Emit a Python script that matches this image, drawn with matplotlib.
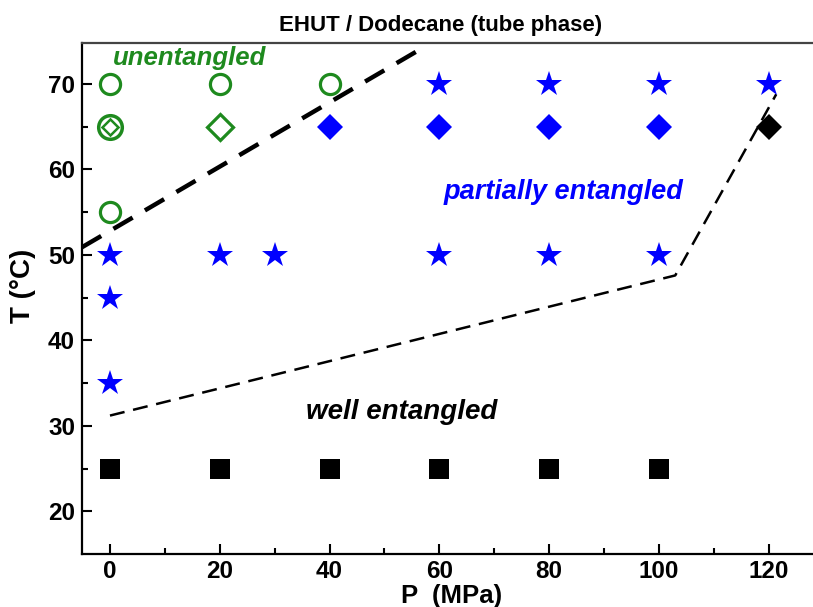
import matplotlib
matplotlib.use('Agg')
import matplotlib.pyplot as plt

plt.rcParams['font.family'] = ['Liberation Sans', 'DejaVu Sans']
plt.rcParams['font.weight'] = 'bold'

GREEN = '#1e8a1e'
BLUE = '#0000ff'

# open green circles (unentangled)
circ_p = [0, 20, 40, 0]
circ_t = [70, 70, 70, 55]
# open green diamonds
odia_p = [20]
odia_t = [65]
# circle + diamond combo
combo_p = [0]
combo_t = [65]
# blue stars
star_p = [60, 80, 100, 120, 0, 20, 30, 60, 80, 100, 0, 0]
star_t = [70, 70, 70, 70, 50, 50, 50, 50, 50, 50, 45, 35]
# blue filled diamonds
bdia_p = [40, 60, 80, 100]
bdia_t = [65, 65, 65, 65]
# black diamond
kdia_p = [120]
kdia_t = [65]
# black squares (well entangled)
sq_p = [0, 20, 40, 60, 80, 100]
sq_t = [25, 25, 25, 25, 25, 25]

# boundary lines
upper_p = [-5.1, 56.1]
upper_t = [50.9, 73.9]
lower_p = [0, 103.0, 121.4]
lower_t = [31.2, 47.6, 68.8]

fig = plt.figure(figsize=(8.13, 6.07), dpi=100)
ax = fig.add_axes([82/813, 1-554/607, 1-82/813, (554-43)/607])

ax.plot(upper_p, upper_t, color='black', lw=3.2, dashes=(5, 3.2), solid_capstyle='butt')
ax.plot(lower_p, lower_t, color='black', lw=1.8, dashes=(6, 3.5))

ax.plot(circ_p, circ_t, 'o', ms=14.5, mfc='none', mec=GREEN, mew=2.3, ls='none')
ax.plot(odia_p, odia_t, 'D', ms=13, mfc='none', mec=GREEN, mew=2.3, ls='none')
ax.plot(combo_p, combo_t, 'o', ms=17, mfc='none', mec=GREEN, mew=2.5, ls='none')
ax.plot(combo_p, combo_t, 'D', ms=8.5, mfc='none', mec=GREEN, mew=1.8, ls='none')
ax.plot(star_p, star_t, '*', ms=19, color=BLUE, mew=0, ls='none')
ax.plot(bdia_p, bdia_t, 'D', ms=13.5, color=BLUE, mew=0, ls='none')
ax.plot(kdia_p, kdia_t, 'D', ms=13.5, color='black', mew=0, ls='none')
ax.plot(sq_p, sq_t, 's', ms=14, color='black', mew=0, ls='none')

ax.text(0.5, 73.0, 'unentangled', color=GREEN, fontsize=18.5, fontweight='bold',
        fontstyle='italic', ha='left', va='center')
ax.text(60.8, 57.4, 'partially entangled', color=BLUE, fontsize=19.5, fontweight='bold',
        fontstyle='italic', ha='left', va='center')
ax.text(35.8, 31.6, 'well entangled', color='black', fontsize=20, fontweight='bold',
        fontstyle='italic', ha='left', va='center')

ax.set_xlim(-5.1, 128.1)
ax.set_ylim(15, 74.8)
ax.set_xticks([0, 20, 40, 60, 80, 100, 120])
ax.set_xticks([10, 30, 50, 70, 90, 110], minor=True)
ax.set_yticks([20, 30, 40, 50, 60, 70])
ax.set_yticks([25, 35, 45, 55, 65], minor=True)
ax.tick_params(which='both', direction='in', width=1.5, labelsize=17.5)
ax.tick_params(which='major', length=7)
ax.tick_params(which='minor', length=4.5)
ax.tick_params(axis='x', pad=4)
ax.tick_params(axis='y', pad=5)
for lab in ax.get_xticklabels() + ax.get_yticklabels():
    lab.set_fontweight('bold')

ax.spines['right'].set_visible(False)
for s in ['left', 'bottom', 'top']:
    ax.spines[s].set_linewidth(1.6)
ax.spines['top'].set_color('#444444')

fig.text(441/813, 1-26/607, 'EHUT / Dodecane (tube phase)', fontsize=16,
         fontweight='bold', ha='center', va='center')
fig.text(452/813, 1-596/607, 'P  (MPa)', fontsize=18.5, fontweight='bold',
         ha='center', va='center')
fig.text(23/813, 1-286/607, 'T (°C)', fontsize=20, fontweight='bold',
         ha='center', va='center', rotation=90)

fig.savefig('out.png', dpi=100)
